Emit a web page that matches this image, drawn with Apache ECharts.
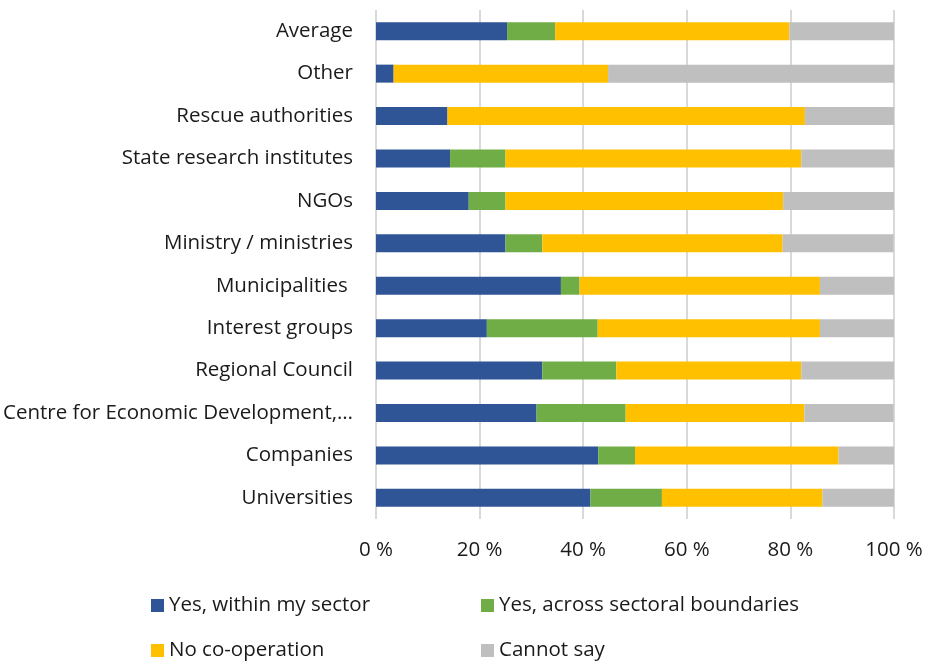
<!DOCTYPE html>
<html>
<head>
<meta charset="utf-8">
<script src="https://cdn.jsdelivr.net/npm/echarts@6/dist/echarts.min.js"></script>
<style>
  html, body { margin: 0; padding: 0; background: #fff; }
  #chart { width: 927px; height: 662px; }
</style>
</head>
<body>
<div id="chart"></div>
<script>
// Organisation types, listed top to bottom
const categories = [
  'Average',
  'Other',
  'Rescue authorities',
  'State research institutes',
  'NGOs',
  'Ministry / ministries',
  'Municipalities ',
  'Interest groups',
  'Regional Council',
  'Centre for Economic Development, Transport and the Environment',
  'Companies',
  'Universities'
];

// Share of respondents (%) per answer
const withinSector = [25.3, 3.4, 13.8, 14.3, 17.9, 25.0, 35.7, 21.4, 32.1, 31.0, 42.9, 41.4];
const acrossSectors = [9.3, 0, 0, 10.7, 7.1, 7.1, 3.6, 21.4, 14.3, 17.2, 7.1, 13.8];
const noCooperation = [45.2, 41.4, 69.0, 57.1, 53.6, 46.4, 46.4, 42.9, 35.7, 34.5, 39.3, 31.0];
const cannotSay = [20.2, 55.2, 17.2, 17.9, 21.4, 21.4, 14.3, 14.3, 17.9, 17.2, 10.7, 13.8];

const seriesNames = [
  'Yes, within my sector',
  'Yes, across sectoral boundaries',
  'No co-operation',
  'Cannot say'
];
const xTicks = [0, 20, 40, 60, 80, 100];

const FONT = '"Open Sans", "Noto Sans", sans-serif';
const FONT_SIZE = 20.5;
const TEXT = '#1a1a1a';
const colors = ['#2F5597', '#70AD47', '#FFC000', '#BFBFBF'];
const values = [withinSector, acrossSectors, noCooperation, cannotSay];

// Long names are cut after their first clause
function shortLabel(name) {
  if (name.length <= 40) return name;
  const cut = name.indexOf(',');
  return (cut > 0 ? name.slice(0, cut + 1) : name.slice(0, 38)) + '…';
}

const chart = echarts.init(document.getElementById('chart'), null, { renderer: 'canvas' });

const legendPos = [
  { left: 146, top: 590 },
  { left: 476, top: 590 },
  { left: 146, top: 635 },
  { left: 476, top: 635 }
];

chart.setOption({
  animation: false,
  color: colors,
  grid: { left: 376, right: 33, top: 10, bottom: 143, containLabel: false },
  xAxis: {
    type: 'value',
    min: xTicks[0],
    max: xTicks[xTicks.length - 1],
    interval: 20,
    axisLine: { show: false },
    axisTick: { show: false },
    splitLine: { show: true, lineStyle: { color: '#d9d9d9', width: 2 } },
    axisLabel: {
      formatter: v => v + ' %',
      fontFamily: FONT,
      fontSize: FONT_SIZE,
      color: TEXT,
      margin: 21
    }
  },
  yAxis: {
    type: 'category',
    data: categories,
    inverse: true,
    axisLine: { show: false },
    axisTick: { show: false },
    splitLine: { show: false },
    axisLabel: {
      formatter: shortLabel,
      fontFamily: FONT,
      fontSize: FONT_SIZE,
      color: TEXT,
      margin: 23
    }
  },
  legend: seriesNames.map((name, i) => ({
    data: [name],
    left: legendPos[i].left,
    top: legendPos[i].top,
    icon: 'rect',
    itemWidth: 13,
    itemHeight: 13,
    itemGap: 6,
    textStyle: { fontFamily: FONT, fontSize: FONT_SIZE, color: TEXT, padding: [0, 0, 0, 0] }
  })),
  series: seriesNames.map((name, i) => ({
    name: name,
    type: 'bar',
    stack: 'total',
    barWidth: 18,
    data: values[i],
    itemStyle: { color: colors[i] }
  }))
});
</script>
</body>
</html>
